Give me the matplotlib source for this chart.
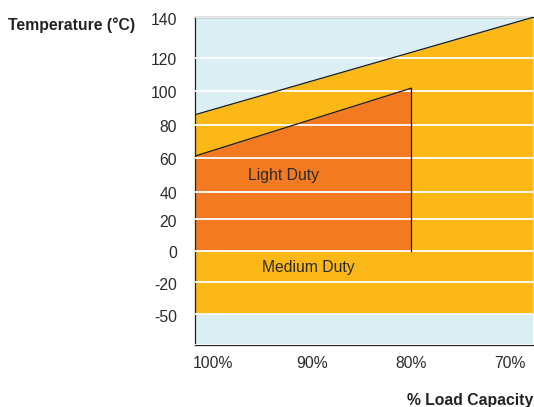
import matplotlib.pyplot as plt
import matplotlib.transforms as mtransforms
import numpy as np

plt.rcParams['font.family'] = ['Liberation Sans', 'DejaVu Sans']

# y axis is drawn unevenly in the source: temperature -> position on the axis
temp_ticks = [-70, -50, -20, 0, 20, 40, 60, 80, 100, 120, 140]
tick_pos = [0, 31, 62.7, 94, 125.7, 153.3, 187.3, 220, 254.3, 287.3, 327.7]
tick_labels = ['', '-50', '-20', '0', '20', '40', '60', '80', '100', '120', '140']

x_ticks = [100, 90, 80, 70]
x_labels = ['100%', '90%', '80%', '70%']

load_edges = [101.8, 67.7]
upper_limit = [86, 140]
medium_bottom = -50
light_load = [101.8, 80]
light_top = [61, 101.5]
light_bottom = 0


def fwd(t):
    return np.interp(t, temp_ticks, tick_pos)


def inv(p):
    return np.interp(p, tick_pos, temp_ticks)


fig = plt.figure(figsize=(5.34, 4.07), dpi=100)
ax = fig.add_axes([195 / 534, 1 - 345 / 407, 338 / 534, (345 - 17.3) / 407])
ax.set_facecolor('#DAEEF3')
ax.set_yscale('function', functions=(fwd, inv))

ax.fill_between(load_edges, medium_bottom, upper_limit, color='#FBB817', lw=0, zorder=1)
ax.fill_between(light_load, light_bottom, light_top, color='#F47A22', lw=0, zorder=1.5)

ax.plot(load_edges, upper_limit, color='#1a1a1a', lw=0.9, zorder=3)
ax.plot(light_load, light_top, color='#1a1a1a', lw=0.9, zorder=3)
ax.plot([light_load[1], light_load[1]], [light_bottom, light_top[1]], color='#1a1a1a', lw=0.9, zorder=3)

ax.set_xlim(load_edges[0], load_edges[1])
ax.set_ylim(-70, 140)
ax.set_yticks(temp_ticks)
ax.set_yticklabels(tick_labels)
ax.set_xticks(x_ticks)
ax.set_xticklabels(x_labels)
ax.tick_params(length=0, labelsize=11.3, colors='#2a2a2a')
ax.tick_params(axis='y', pad=13)
ax.tick_params(axis='x', pad=8)

# labels sit a little below their grid lines in the original
shift = mtransforms.ScaledTranslation(0, -1.5 / 100, fig.dpi_scale_trans)
for lab in ax.get_yticklabels():
    lab.set_transform(lab.get_transform() + shift)

ax.set_axisbelow(False)
ax.grid(axis='y', color='white', lw=1.3)
ax.grid(axis='x', visible=False)
for s in ax.spines.values():
    s.set_color('#222222')
    s.set_linewidth(0.9)
ax.spines['right'].set_visible(False)

ax.text(92.9, 49.4, 'Light Duty', fontsize=11.3, color='#2a2a2a', ha='center', va='center')
ax.text(90.4, -10.7, 'Medium Duty', fontsize=11.3, color='#2a2a2a', ha='center', va='center')

fig.text(8 / 534, 1 - 25 / 407, 'Temperature (°C)', fontsize=11.3, fontweight='bold',
         color='#222222', ha='left', va='center')
fig.text(533 / 534, 1 - 400 / 407, '% Load Capacity', fontsize=11.3, fontweight='bold',
         color='#222222', ha='right', va='center')

fig.savefig('out.png', dpi=100)
